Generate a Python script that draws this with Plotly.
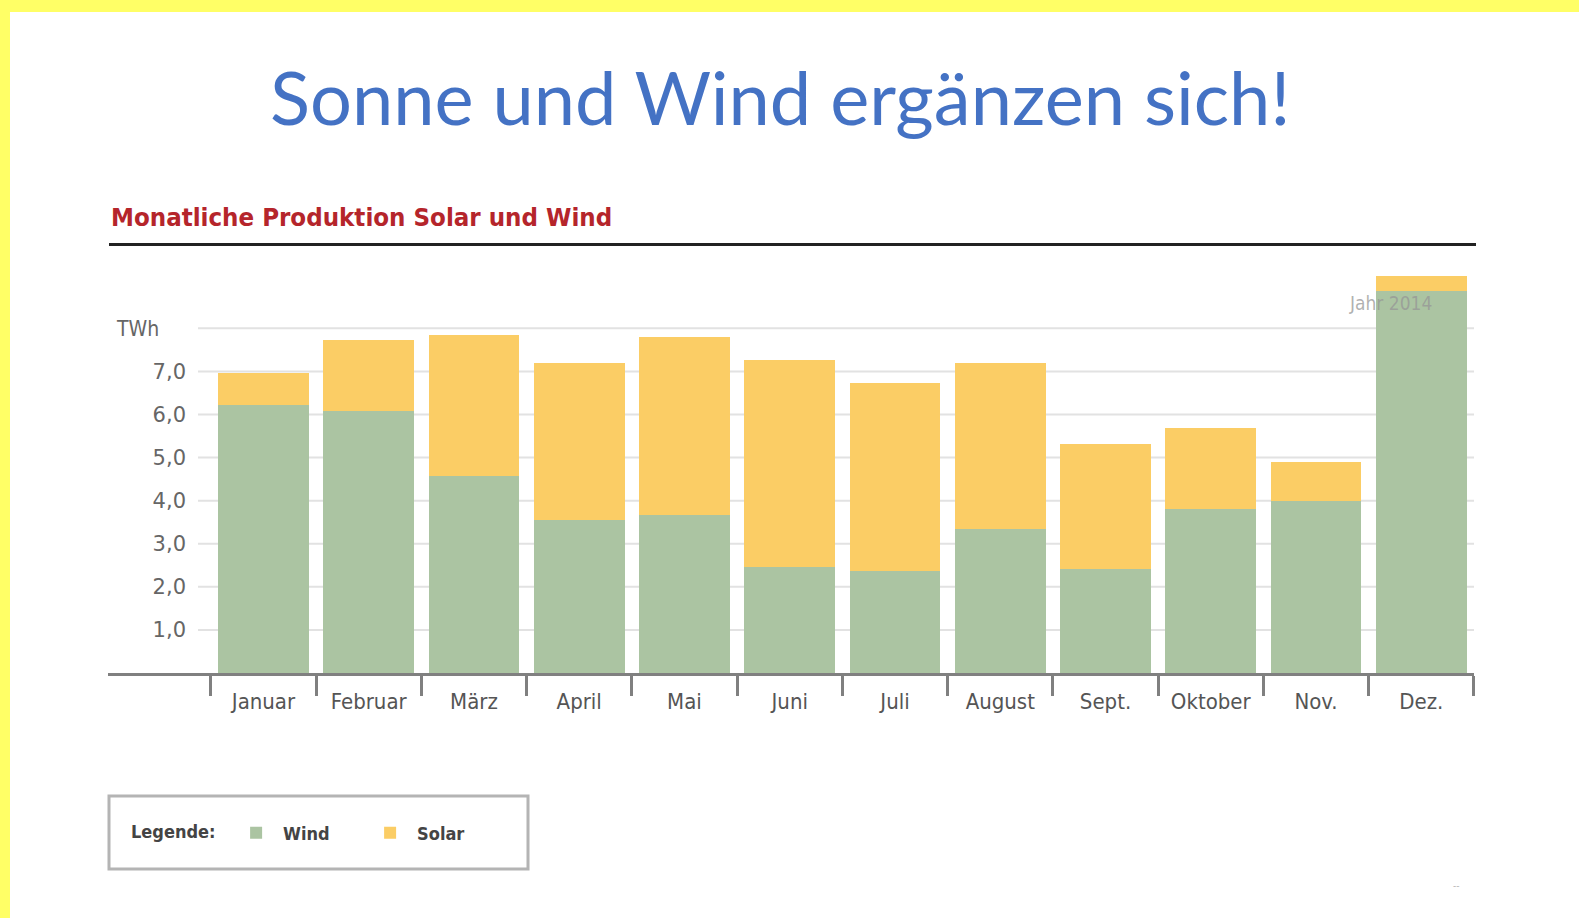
import plotly.graph_objects as go

# ---------------- data ----------------
months = ["Januar", "Februar", "März", "April", "Mai", "Juni",
          "Juli", "August", "Sept.", "Oktober", "Nov.", "Dez."]
wind = [6.22, 6.08, 4.58, 3.56, 3.67, 2.47, 2.36, 3.34, 2.41, 3.81, 4.00, 8.87]
solar = [0.74, 1.66, 3.27, 3.63, 4.14, 4.80, 4.37, 3.85, 2.91, 1.87, 0.89, 0.35]
ytick_vals = [1, 2, 3, 4, 5, 6, 7]
ytick_text = ["1,0", "2,0", "3,0", "4,0", "5,0", "6,0", "7,0"]
grid_vals = [1, 2, 3, 4, 5, 6, 7, 8]

# ---------------- layout helpers ----------------
FW, FH = 1579, 918
L, R, T, B = 108, 105, 268, 245
PW, PH = FW - L - R, FH - T - B


def px2x(px):
    return (px - L) / PW


def py2y(py):
    return (FH - B - py) / PH


GREEN = "#ABC4A2"
YELLOW = "#FBCD65"
COND = "DejaVu Sans Condensed, DejaVu Sans, sans-serif"

fig = go.Figure()
fig.add_trace(go.Bar(x=months, y=wind, name="Wind", marker=dict(color=GREEN, line=dict(width=0))))
fig.add_trace(go.Bar(x=months, y=solar, name="Solar", marker=dict(color=YELLOW, line=dict(width=0))))

shapes = []
# yellow frame strips
shapes.append(dict(type="rect", xref="paper", yref="paper", x0=px2x(0), x1=px2x(FW), y0=py2y(12), y1=py2y(0),
                   fillcolor="#FFFF66", line=dict(width=0), layer="below"))
shapes.append(dict(type="rect", xref="paper", yref="paper", x0=px2x(0), x1=px2x(10), y0=py2y(FH), y1=py2y(0),
                   fillcolor="#FFFF66", line=dict(width=0), layer="below"))
# underline of the subtitle
shapes.append(dict(type="line", xref="paper", yref="paper", x0=px2x(109), x1=px2x(1476), y0=py2y(244.5), y1=py2y(244.5),
                   line=dict(color="#222222", width=3)))
# gridlines
for g in grid_vals:
    shapes.append(dict(type="line", xref="paper", yref="y", x0=px2x(198), x1=1.0, y0=g, y1=g,
                       line=dict(color="#E2E2E2", width=2), layer="below"))
# legend frame
shapes.append(dict(type="rect", xref="paper", yref="paper", x0=px2x(109), x1=px2x(528), y0=py2y(869), y1=py2y(796),
                   line=dict(color="#B4B4B4", width=3), fillcolor="rgba(0,0,0,0)"))

annotations = [
    dict(text="Sonne und Wind ergänzen sich!", xref="paper", yref="paper", x=px2x(780), y=py2y(97),
         xanchor="center", yanchor="middle", showarrow=False,
         font=dict(family="Lato, Open Sans, sans-serif", size=74, color="#4472C4")),
    dict(text="Monatliche Produktion Solar und Wind", xref="paper", yref="paper", x=px2x(109), y=py2y(217),
         xanchor="left", yanchor="middle", showarrow=False,
         font=dict(family=COND, size=25.6, color="#B5252B", weight="bold")),
    dict(text="TWh", xref="paper", yref="paper", x=px2x(114), y=py2y(329),
         xanchor="left", yanchor="middle", showarrow=False,
         font=dict(family=COND, size=21, color="#666666")),
    dict(text="Jahr 2014", xref="paper", yref="paper", x=px2x(1347), y=py2y(303),
         xanchor="left", yanchor="middle", showarrow=False,
         font=dict(family=COND, size=19, color="rgba(150,150,150,0.75)")),
    dict(text="--", xref="paper", yref="paper", x=px2x(1456), y=py2y(885),
         xanchor="center", yanchor="middle", showarrow=False,
         font=dict(family=COND, size=10, color="#BBBBBB")),
]

fig.update_layout(
    width=FW, height=FH,
    margin=dict(l=L, r=R, t=T, b=B, pad=0),
    paper_bgcolor="white", plot_bgcolor="rgba(0,0,0,0)",
    barmode="stack", bargap=0.136,
    shapes=shapes, annotations=annotations,
    showlegend=True,
    legend=dict(orientation="h", x=px2x(129), y=py2y(833), xanchor="left", yanchor="middle",
                traceorder="normal", bgcolor="rgba(0,0,0,0)", borderwidth=0,
                title=dict(text="Legende:\u00a0", side="left",
                           font=dict(family=COND, size=18, color="#444444", weight="bold")),
                font=dict(family=COND, size=18, color="#444444", weight="bold"),
                itemwidth=44,
                entrywidth=75, entrywidthmode="pixels", itemclick=False, itemdoubleclick=False),
    xaxis=dict(type="category", range=[-1.477, 11.501], showgrid=False, zeroline=False,
               showline=True, linecolor="#808080", linewidth=3,
               ticks="outside", tickson="boundaries", ticklen=20, tickwidth=3, tickcolor="#808080",
               tickangle=0,
               tickfont=dict(family=COND, size=22, color="#555555"), ticklabelstandoff=7,
               fixedrange=True),
    yaxis=dict(range=[0, 9.4], showgrid=False, zeroline=False, showline=False,
               anchor="free", position=px2x(186),
               tickvals=ytick_vals, ticktext=ytick_text, ticks="",
               tickfont=dict(family="DejaVu Sans, sans-serif", size=21, color="#666666"),
               fixedrange=True),
)

fig.write_html("out.html", config={"displayModeBar": False},
               post_script="document.body.style.margin='0px';")
